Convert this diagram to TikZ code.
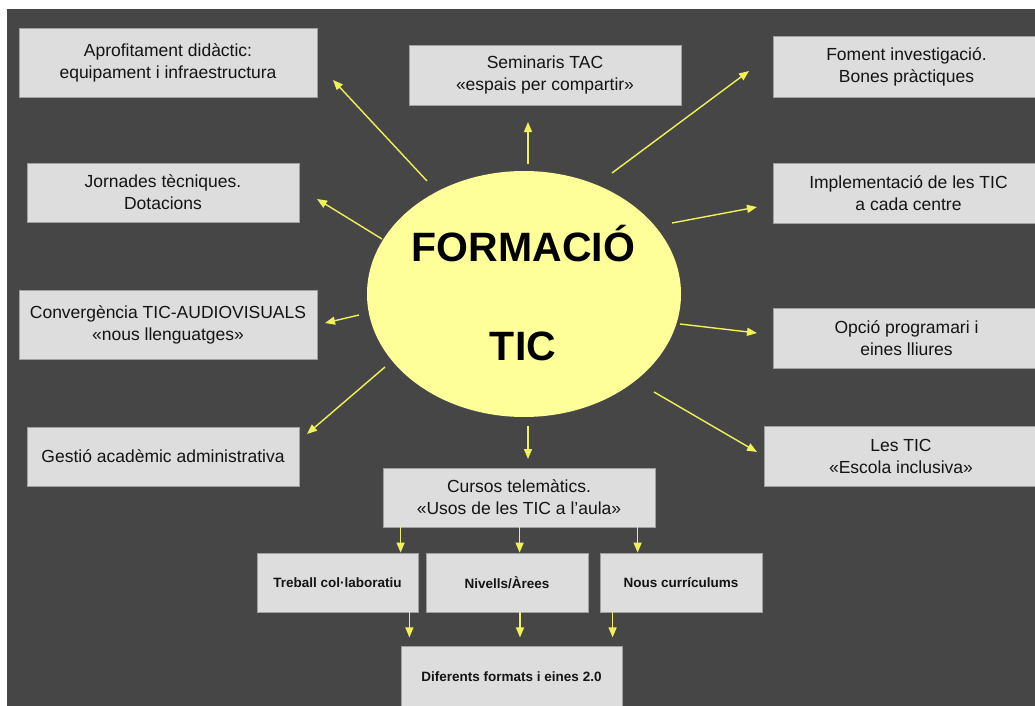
\documentclass[tikz,border=0pt]{standalone}
\usepackage{fontspec}
\setmainfont{Liberation Sans}
\usetikzlibrary{arrows.meta,shapes.geometric}
\definecolor{bgdark}{RGB}{70,70,70}
\definecolor{boxfill}{RGB}{221,221,221}
\definecolor{boxedge}{RGB}{160,160,160}
\definecolor{txt}{RGB}{20,20,20}
\definecolor{arrcol}{RGB}{240,240,90}
\definecolor{ellfill}{RGB}{255,255,153}
\tikzset{
  box/.style={draw=boxedge, fill=boxfill, line width=0.8pt, inner sep=0pt,
    align=center, text=txt, font=\fontsize{17.5}{22}\selectfont},
  smallbox/.style={box, font=\bfseries\fontsize{13.5}{16}\selectfont},
  arr/.style={draw=arrcol, line width=1.4pt, -{Triangle[length=10pt,width=8pt]}},
  bigtxt/.style={anchor=base, inner sep=0pt, text=black, font=\bfseries\fontsize{41}{48}\selectfont}
}
\begin{document}
\begin{tikzpicture}[x=1pt,y=-1pt]
\useasboundingbox (0,0) rectangle (1035,706);
\clip (0,0) rectangle (1035,706);
\fill[white] (0,0) rectangle (1035,706);
\fill[bgdark] (7,9) rectangle (1040,710);

% central ellipse
\node[ellipse, fill=ellfill, minimum width=314pt, minimum height=246pt, inner sep=0pt] (c) at (524,294) {};
\node[bigtxt] (t1) at (523.5,261) {FORMACIÓ};
\node[bigtxt] (t2) at (523,360) {TIC};

% boxes
\node[box, minimum width=298pt, minimum height=69pt] (apro) at (168,62.5) {Aprofitament didàctic:\\equipament i infraestructura};
\node[box, minimum width=272pt, minimum height=60pt] (semi) at (545,75) {Seminaris TAC\\«espais per compartir»};
\node[box, minimum width=267pt, minimum height=61pt] (foment) at (906.5,66.5) {Foment investigació.\\Bones pràctiques};
\node[box, minimum width=272pt, minimum height=59pt] (jorn) at (163,192.5) {Jornades tècniques.\\Dotacions};
\node[box, minimum width=271pt, minimum height=60pt] (impl) at (908.5,193) {Implementació de les TIC\\a cada centre};
\node[box, minimum width=298pt, minimum height=69pt] (conv) at (168,324.5) {Convergència TIC-AUDIOVISUALS\\«nous llenguatges»};
\node[box, minimum width=267pt, minimum height=60pt] (opcio) at (906.5,338) {Opció programari i\\eines lliures};
\node[box, minimum width=272pt, minimum height=59pt] (gestio) at (163,456.5) {Gestió acadèmic administrativa};
\node[box, minimum width=274pt, minimum height=60pt] (lestic) at (901,456) {Les TIC\\«Escola inclusiva»};
\node[box, minimum width=272pt, minimum height=59pt] (cursos) at (519,497.5) {Cursos telemàtics.\\«Usos de les TIC a l’aula»};
\node[smallbox, minimum width=161pt, minimum height=59pt] (treball) at (337.5,582.5) {Treball col·laboratiu};
\node[smallbox, minimum width=162pt, minimum height=59pt] (nivells) at (507,582.5) {Nivells/Àrees};
\node[smallbox, minimum width=162pt, minimum height=59pt] (nous) at (681,582.5) {Nous currículums};
\node[smallbox, minimum width=221pt, minimum height=62pt] (dif) at (511.5,677) {Diferents formats i eines 2.0};

% radial arrow end points
\coordinate (s1) at (427,181); \coordinate (e1) at (333,80);
\coordinate (s2) at (528,164); \coordinate (e2) at (528,122);
\coordinate (s3) at (612,173); \coordinate (e3) at (749,71);
\coordinate (s4) at (382,239); \coordinate (e4) at (317,199);
\coordinate (s5) at (672,223); \coordinate (e5) at (757,207);
\coordinate (s6) at (359,315); \coordinate (e6) at (325,323);
\coordinate (s7) at (680,324); \coordinate (e7) at (757,333);
\coordinate (s8) at (385,367); \coordinate (e8) at (307,434);
\coordinate (s9) at (654,392); \coordinate (e9) at (757,452);
\coordinate (s10) at (528,426); \coordinate (e10) at (528,459);

\draw[arr] (s1) -- (e1);
\draw[arr] (s2) -- (e2);
\draw[arr] (s3) -- (e3);
\draw[arr] (s4) -- (e4);
\draw[arr] (s5) -- (e5);
\draw[arr] (s6) -- (e6);
\draw[arr] (s7) -- (e7);
\draw[arr] (s8) -- (e8);
\draw[arr] (s9) -- (e9);
\draw[arr] (s10) -- (e10);

% sub arrows
\draw[arr] ([xshift=18pt]cursos.south west) -- ([xshift=18pt]cursos.south west |- treball.north);
\draw[arr] ([xshift=137pt]cursos.south west) -- ([xshift=137pt]cursos.south west |- nivells.north);
\draw[arr] ([xshift=255pt]cursos.south west) -- ([xshift=255pt]cursos.south west |- nous.north);
\draw[arr] ([xshift=-9pt]treball.south east) -- ([xshift=-9pt,yshift=-25pt]treball.south east);
\draw[arr] ([xshift=13pt]nivells.south) -- ([xshift=13pt,yshift=-25pt]nivells.south);
\draw[arr] ([xshift=13pt]nous.south west) -- ([xshift=13pt,yshift=-25pt]nous.south west);
\end{tikzpicture}
\end{document}
